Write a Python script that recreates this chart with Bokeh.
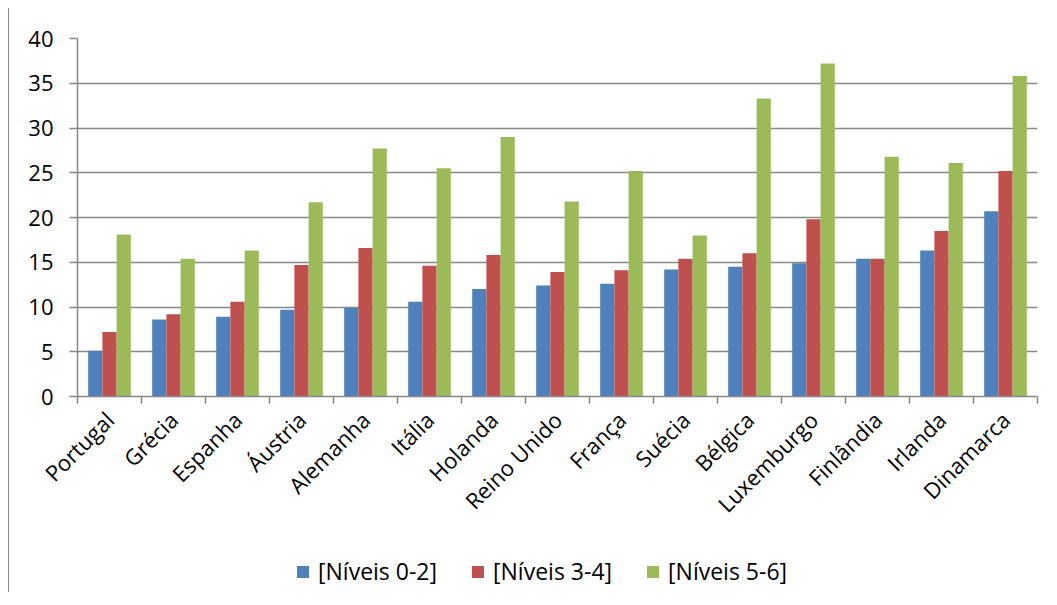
import math

from bokeh.embed import file_html
from bokeh.layouts import column, row
from bokeh.models import (ColumnDataSource, Div, FixedTicker, Legend,
                          LegendItem, Range1d)
from bokeh.plotting import figure
from bokeh.resources import INLINE

# Country groups, left to right
countries = ["Portugal", "Grécia", "Espanha", "Áustria", "Alemanha", "Itália",
             "Holanda", "Reino Unido", "França", "Suécia", "Bélgica",
             "Luxemburgo", "Finlândia", "Irlanda", "Dinamarca"]

# Values per proficiency band
niveis_0_2 = [5.1, 8.6, 8.9, 9.7, 9.9, 10.6, 12.0, 12.4, 12.6, 14.2, 14.5, 14.9, 15.4, 16.3, 20.7]
niveis_3_4 = [7.2, 9.2, 10.6, 14.7, 16.6, 14.6, 15.8, 13.9, 14.1, 15.4, 16.0, 19.8, 15.4, 18.5, 25.2]
niveis_5_6 = [18.1, 15.4, 16.3, 21.7, 27.7, 25.5, 29.0, 21.8, 25.2, 18.0, 33.3, 37.2, 26.8, 26.1, 35.8]

series_labels = ["[Níveis 0-2]", "[Níveis 3-4]", "[Níveis 5-6]"]
series_colors = ["#4F81BD", "#C0504D", "#9BBB59"]
y_ticks = [0, 5, 10, 15, 20, 25, 30, 35, 40]

FONT = "Open Sans"
GREY = "#878787"
BAR_W = 0.222

n = len(countries)
centers = [i + 0.5 for i in range(n)]
bounds = list(range(n + 1))

p = figure(width=1048, height=531,
           x_range=Range1d(0, n), y_range=Range1d(0, 40),
           output_backend="svg", toolbar_location=None,
           min_border_left=68, min_border_right=20,
           min_border_top=38, min_border_bottom=135)
p.outline_line_color = None
p.background_fill_color = "white"
p.border_fill_color = "white"

for k, (vals, color) in enumerate(zip([niveis_0_2, niveis_3_4, niveis_5_6], series_colors)):
    offset = (k - 1) * BAR_W
    src = ColumnDataSource(dict(x=[c + offset for c in centers], top=vals))
    p.vbar(x="x", top="top", bottom=0, width=BAR_W, source=src,
           fill_color=color, line_color=None)

# y axis and horizontal gridlines
p.yaxis.ticker = FixedTicker(ticks=y_ticks)
p.yaxis.axis_line_color = GREY
p.yaxis.axis_line_width = 1.5
p.yaxis.major_tick_line_color = GREY
p.yaxis.major_tick_line_width = 1.5
p.yaxis.major_tick_out = 8
p.yaxis.major_tick_in = 0
p.yaxis.minor_tick_line_color = None
p.yaxis.major_label_standoff = 16
p.yaxis.major_label_text_font = FONT
p.yaxis.major_label_text_font_size = "22px"
p.yaxis.major_label_text_color = "black"

p.ygrid.ticker = FixedTicker(ticks=y_ticks)
p.ygrid.grid_line_color = GREY
p.ygrid.grid_line_width = 1.5
p.xgrid.grid_line_color = None

# x axis: labels at group centres, tick marks between groups
p.xaxis.ticker = FixedTicker(ticks=centers, minor_ticks=bounds)
p.xaxis.major_label_overrides = {c: name for c, name in zip(centers, countries)}
p.xaxis.major_tick_out = 0
p.xaxis.major_tick_in = 0
p.xaxis.minor_tick_out = 7
p.xaxis.minor_tick_in = 0
p.xaxis.minor_tick_line_color = GREY
p.xaxis.minor_tick_line_width = 1.5
p.xaxis.axis_line_color = GREY
p.xaxis.axis_line_width = 1.5
p.xaxis.major_label_orientation = math.pi / 4
p.xaxis.major_label_standoff = 12
p.xaxis.major_label_text_font = FONT
p.xaxis.major_label_text_font_size = "22px"
p.xaxis.major_label_text_color = "black"

# Legend strip under the chart; each swatch renderer holds one point kept
# outside the strip's visible range so only the legend shows
leg = figure(width=1048, height=74, x_range=Range1d(0, 1), y_range=Range1d(0, 1),
             output_backend="svg", toolbar_location=None,
             x_axis_location=None, y_axis_location=None,
             min_border_left=0, min_border_right=0,
             min_border_top=0, min_border_bottom=0)
leg.outline_line_color = None
leg.xgrid.grid_line_color = None
leg.ygrid.grid_line_color = None
swatches = []
for color in series_colors:
    swatches.append(leg.vbar(x=[-5], top=[-5], bottom=-6, width=0.1,
                             fill_color=color, line_color=None))

legend = Legend(items=[LegendItem(label=lab, renderers=[r])
                       for lab, r in zip(series_labels, swatches)],
                orientation="horizontal", location=(218, 18),
                border_line_color=None, background_fill_alpha=0,
                padding=0, margin=0, spacing=33,
                glyph_width=15, glyph_height=15, label_standoff=8,
                label_text_font=FONT, label_text_font_size="23px",
                label_text_color="black")
leg.add_layout(legend, "center")

edge = Div(width=9, height=584, margin=(8, 0, 0, 0),
           styles={"border-right": "1.5px solid #8c8c8c", "box-sizing": "border-box"})

layout = row(edge, column(p, leg))
open("out.html", "w").write(file_html(layout, INLINE))
